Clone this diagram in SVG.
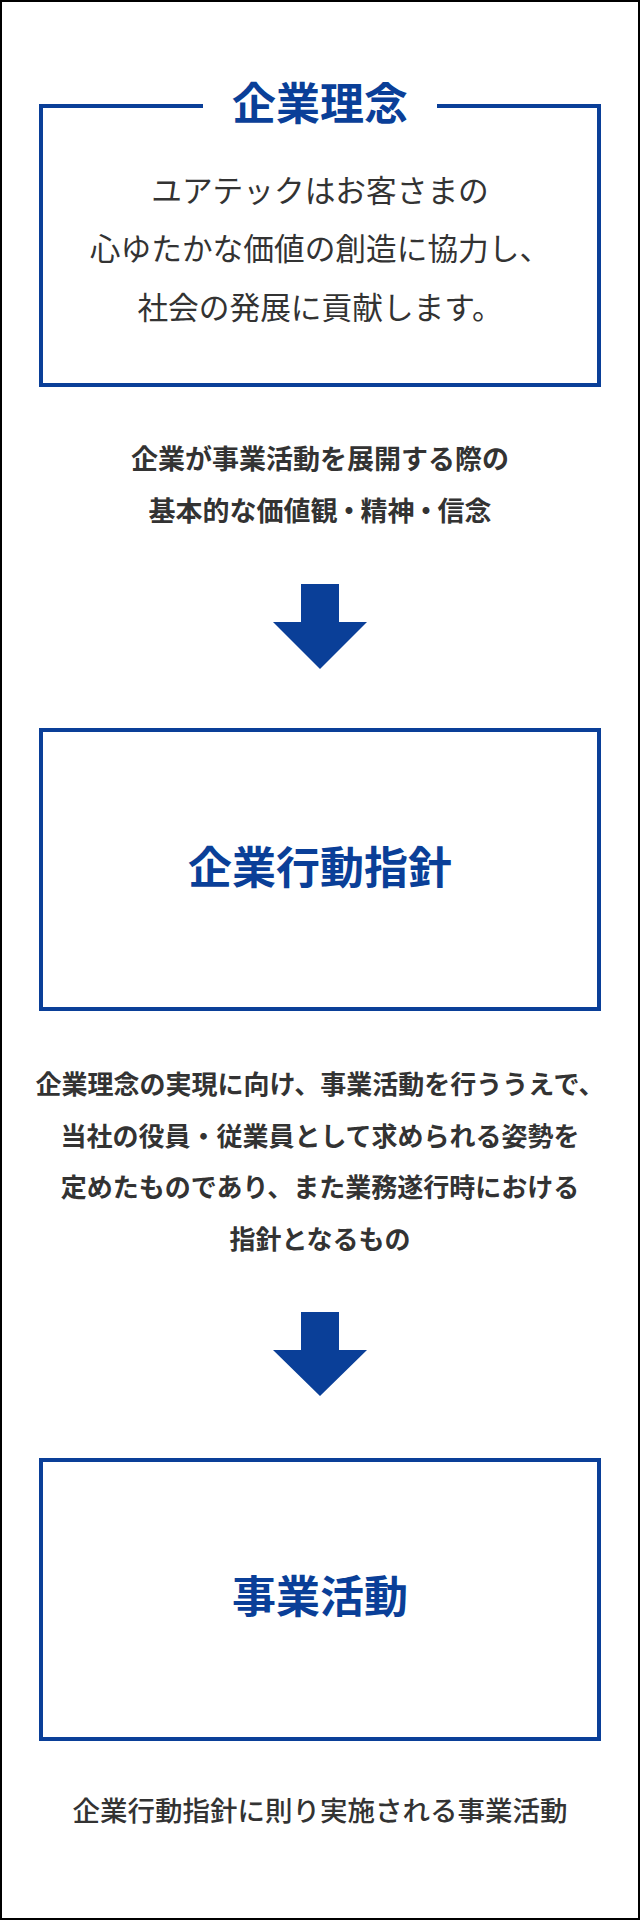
<svg xmlns="http://www.w3.org/2000/svg" width="640" height="1920" viewBox="0 0 640 1920">
  <style>
    .box { fill: none; stroke: #0a3f98; stroke-width: 4; }
    .title { font-family: "Noto Sans CJK JP", "Noto Sans", sans-serif; font-weight: 700; font-size: 44px; fill: #0a3f98; text-anchor: middle; }
    .body { font-family: "Noto Sans CJK JP", "Noto Sans", sans-serif; font-weight: 400; font-size: 30.7px; fill: #333333; text-anchor: middle; }
    .desc { font-family: "Noto Sans CJK JP", "Noto Sans", sans-serif; font-weight: 700; fill: #333333; text-anchor: middle; }
    .note { font-family: "Noto Sans CJK JP", "Noto Sans", sans-serif; font-weight: 500; font-size: 27.5px; fill: #333333; text-anchor: middle; }
    .arrow { fill: #0a3f98; }
  </style>
  <rect x="1" y="1" width="638" height="1918" fill="#ffffff" stroke="#000000" stroke-width="2"/>

  <g id="node-kigyo-rinen">
    <path class="box" d="M203 106 H41 V385 H599 V106 H437"/>
    <text class="title" x="320" y="120">企業理念</text>
    <text class="body" x="320" y="202">ユアテックはお客さまの</text>
    <text class="body" x="320" y="260">心ゆたかな価値の創造に協力し、</text>
    <text class="body" x="320" y="319">社会の発展に貢献します。</text>
  </g>

  <g id="desc-rinen">
    <text class="desc" x="320" y="469" font-size="27">企業が事業活動を展開する際の</text>
    <text class="desc" x="320" y="521" font-size="27">基本的な価値観<tspan dx="-2">・</tspan><tspan dx="-2">精神</tspan><tspan dx="-2">・</tspan><tspan dx="-2">信念</tspan></text>
  </g>

  <g id="node-kodo-shishin">
    <rect class="box" x="41" y="730" width="558" height="279"/>
    <text class="title" x="320" y="884">企業行動指針</text>
  </g>

  <g id="desc-shishin">
    <text class="desc" x="320" y="1094" font-size="26">企業理念の実現に向け、事業活動を行ううえで、</text>
    <text class="desc" x="320" y="1146" font-size="26">当社の役員・従業員として求められる姿勢を</text>
    <text class="desc" x="320" y="1197" font-size="26">定めたものであり、また業務遂行時における</text>
    <text class="desc" x="320" y="1249" font-size="26">指針となるもの</text>
  </g>

  <g id="node-jigyo-katsudo">
    <rect class="box" x="41" y="1460" width="558" height="279"/>
    <text class="title" x="320" y="1613">事業活動</text>
  </g>

  <g id="desc-katsudo">
    <text class="note" x="320" y="1821">企業行動指針に則り実施される事業活動</text>
  </g>

  <g id="connectors">
    <polygon class="arrow" points="301,584 339,584 339,622 367,622 320,669 273,622 301,622"/>
    <polygon class="arrow" points="301,1312 339,1312 339,1350 367,1350 320,1396 273,1350 301,1350"/>
  </g>
</svg>
